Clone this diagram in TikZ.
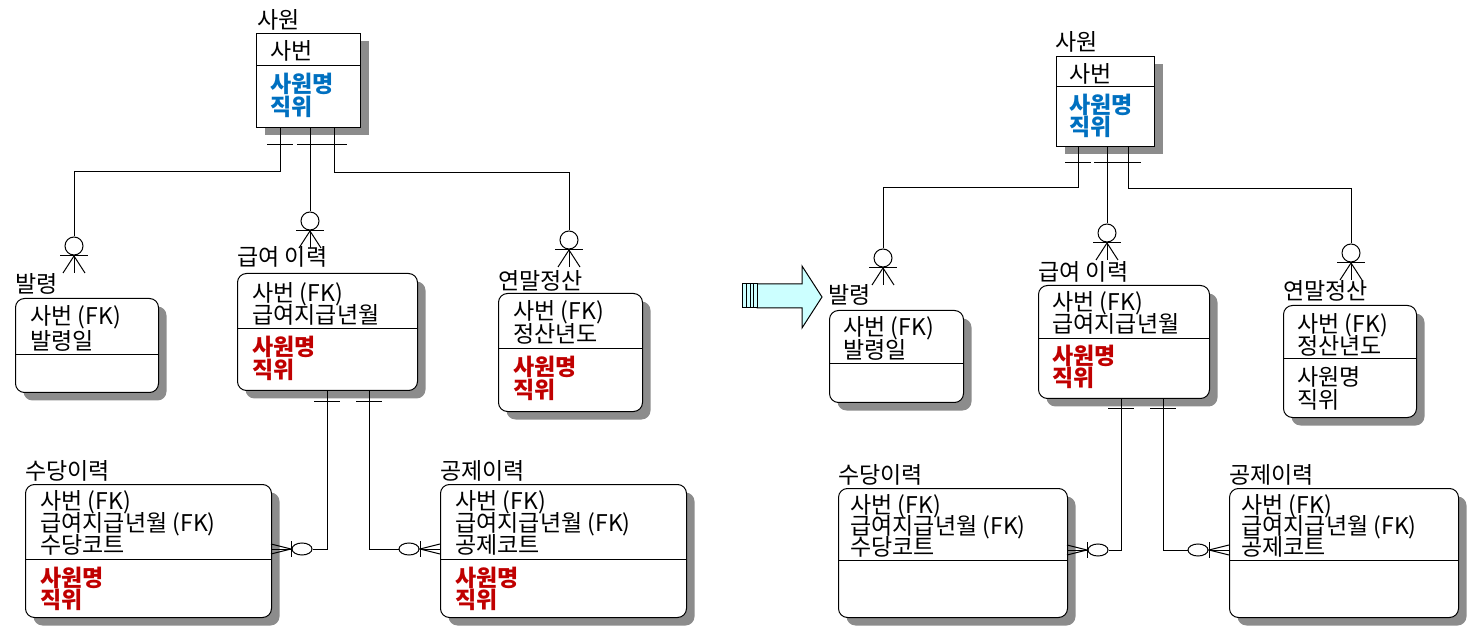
\documentclass[tikz,border=0pt]{standalone}
\usepackage{fontspec}
\setmainfont{Noto Sans CJK KR}
\usetikzlibrary{shadows,shapes.geometric}

\definecolor{keyblue}{HTML}{0070C0}
\definecolor{nonkeyred}{HTML}{C00000}
\definecolor{arrowcyan}{HTML}{CCFFFF}

\tikzset{
  entity/.style={draw, fill=white, anchor=north west, inner sep=0pt,
    drop shadow={shadow xshift=8pt, shadow yshift=-8pt, fill=black!45, opacity=1}},
  depentity/.style={entity, rounded corners=9pt},
  entname/.style={anchor=west, inner sep=0pt, font=\fontsize{23}{23}\selectfont,
    text height=18pt, text depth=2pt},
  attr/.style={entname},
  blueattr/.style={entname, text=keyblue, font=\fontsize{23}{23}\selectfont\bfseries},
  redattr/.style={entname, text=nonkeyred, font=\fontsize{23}{23}\selectfont\bfseries},
  zcirc/.style={draw, circle, minimum size=18pt, inner sep=0pt},
  zell/.style={draw, ellipse, minimum width=20pt, minimum height=12pt, inner sep=0pt}
}

% one side: short bar across the line
\newcommand{\onebar}[2]{\draw ({#1-13},#2) -- ({#1+13},#2);}
% zero-or-many, vertical (name, x, y of tip)
\newcommand{\manyv}[3]{%
  \node[zcirc] (#1) at (#2,{#3-27}) {};
  \draw (#2,#3) -- (#1);
  \draw ({#2-14},{#3-17}) -- ({#2+14},{#3-17});
  \draw ({#2-11},#3) -- (#2,{#3-17}) -- ({#2+11},#3);
}
% zero-or-many, horizontal (name, x of tip, y, direction)
\newcommand{\manyh}[4]{%
  \node[zell] (#1) at ({#2+(#4)*31},#3) {};
  \draw (#2,#3) -- (#1);
  \draw ({#2+(#4)*20},{#3-8}) -- ({#2+(#4)*20},{#3+8});
  \draw (#2,{#3-5}) -- ({#2+(#4)*20},#3) -- (#2,{#3+5});
}

\begin{document}
\begin{tikzpicture}[x=1pt, y=-1pt, line width=1pt]
\useasboundingbox (0,0) rectangle (1468,628);

% ================= before =================
% 사원
\node[entity, minimum width=104pt, minimum height=94pt] (sawonL) at (256,33) {};
\draw ([yshift=-33pt]sawonL.north west) -- ([yshift=-33pt]sawonL.north east);
\node[entname] (sawonLname) at (257,21) {사원};
\node[attr] (sawonLk1) at (270,52) {사번};
\foreach \t/\y [count=\i] in {사원명/85,직위/108}
  \node[blueattr] (sawonLa\i) at (270,\y) {\t};

% 발령
\node[depentity, minimum width=143pt, minimum height=94pt] (balL) at (15,298) {};
\draw ([yshift=-57pt]balL.north west) -- ([yshift=-57pt]balL.north east);
\node[entname] (balLname) at (15,285) {발령};
\foreach \t/\y [count=\i] in {사번 (FK)/317,발령일/342}
  \node[attr] (balLk\i) at (30,\y) {\t};

% 급여 이력
\node[depentity, minimum width=180pt, minimum height=117pt] (gyL) at (237,273) {};
\draw ([yshift=-56pt]gyL.north west) -- ([yshift=-56pt]gyL.north east);
\node[entname] (gyLname) at (237,258) {급여 이력};
\foreach \t/\y [count=\i] in {사번 (FK)/294,급여지급년월/316}
  \node[attr] (gyLk\i) at (252,\y) {\t};
\foreach \t/\y [count=\i] in {사원명/348,직위/371}
  \node[redattr] (gyLa\i) at (252,\y) {\t};

% 연말정산
\node[depentity, minimum width=144pt, minimum height=118pt] (yeonL) at (498,293) {};
\draw ([yshift=-56pt]yeonL.north west) -- ([yshift=-56pt]yeonL.north east);
\node[entname] (yeonLname) at (498,282) {연말정산};
\foreach \t/\y [count=\i] in {사번 (FK)/312,정산년도/335}
  \node[attr] (yeonLk\i) at (513,\y) {\t};
\foreach \t/\y [count=\i] in {사원명/368,직위/391}
  \node[redattr] (yeonLa\i) at (513,\y) {\t};

% 수당이력
\node[depentity, minimum width=246pt, minimum height=133pt] (sudL) at (25,484) {};
\draw ([yshift=-75pt]sudL.north west) -- ([yshift=-75pt]sudL.north east);
\node[entname] (sudLname) at (25,471) {수당이력};
\foreach \t/\y [count=\i] in {사번 (FK)/501,급여지급년월 (FK)/523,수당코트/545}
  \node[attr] (sudLk\i) at (40,\y) {\t};
\foreach \t/\y [count=\i] in {사원명/578,직위/600}
  \node[redattr] (sudLa\i) at (40,\y) {\t};

% 공제이력
\node[depentity, minimum width=246pt, minimum height=133pt] (gongL) at (440,484) {};
\draw ([yshift=-75pt]gongL.north west) -- ([yshift=-75pt]gongL.north east);
\node[entname] (gongLname) at (440,471) {공제이력};
\foreach \t/\y [count=\i] in {사번 (FK)/501,급여지급년월 (FK)/523,공제코트/545}
  \node[attr] (gongLk\i) at (455,\y) {\t};
\foreach \t/\y [count=\i] in {사원명/578,직위/600}
  \node[redattr] (gongLa\i) at (455,\y) {\t};

% relationships
\coordinate (bendA) at (280,172);
\manyv{cBalL}{74}{273}
\draw (sawonL.south -| bendA) -- (bendA) -| (cBalL.north);
\onebar{280}{145}

\manyv{cGyL}{310}{248}
\draw (sawonL.south -| cGyL) -- (cGyL.north);
\onebar{310}{145}

\coordinate (bendC) at (334,173);
\manyv{cYeonL}{569}{267}
\draw (sawonL.south -| bendC) -- (bendC) -| (cYeonL.north);
\onebar{334}{145}

\coordinate (bendD) at (327,549);
\manyh{cSudL}{271}{549}{1}
\draw (gyL.south -| bendD) -- (bendD) -- (cSudL.east);
\onebar{327}{402}

\coordinate (bendE) at (369,549);
\manyh{cGongL}{440}{549}{-1}
\draw (gyL.south -| bendE) -- (bendE) -- (cGongL.west);
\onebar{369}{402}

% ================= arrow =================
\draw[fill=arrowcyan] (757,284) -- (802,284) -- (802,266) -- (822,297)
  -- (802,328) -- (802,308) -- (757,308) -- cycle;
\draw[fill=arrowcyan] (742,284) rectangle (757,308);
\foreach \x in {746,750,753}
  \draw (\x,284) -- (\x,308);

% ================= after =================
% 사원
\node[entity, minimum width=98pt, minimum height=90pt] (sawonR) at (1056,56) {};
\draw ([yshift=-31pt]sawonR.north west) -- ([yshift=-31pt]sawonR.north east);
\node[entname] (sawonRname) at (1055,43) {사원};
\node[attr] (sawonRk1) at (1069,75) {사번};
\foreach \t/\y [count=\i] in {사원명/106,직위/128}
  \node[blueattr] (sawonRa\i) at (1069,\y) {\t};

% 발령
\node[depentity, minimum width=134pt, minimum height=92pt] (balR) at (829,310) {};
\draw ([yshift=-54pt]balR.north west) -- ([yshift=-54pt]balR.north east);
\node[entname] (balRname) at (828,296) {발령};
\foreach \t/\y [count=\i] in {사번 (FK)/328,발령일/351}
  \node[attr] (balRk\i) at (843,\y) {\t};

% 급여 이력
\node[depentity, minimum width=171pt, minimum height=113pt] (gyR) at (1038,285) {};
\draw ([yshift=-54pt]gyR.north west) -- ([yshift=-54pt]gyR.north east);
\node[entname] (gyRname) at (1038,273) {급여 이력};
\foreach \t/\y [count=\i] in {사번 (FK)/303,급여지급년월/325}
  \node[attr] (gyRk\i) at (1052,\y) {\t};
\foreach \t/\y [count=\i] in {사원명/357,직위/379}
  \node[redattr] (gyRa\i) at (1052,\y) {\t};

% 연말정산
\node[depentity, minimum width=133pt, minimum height=112pt] (yeonR) at (1283,305) {};
\draw ([yshift=-54pt]yeonR.north west) -- ([yshift=-54pt]yeonR.north east);
\node[entname] (yeonRname) at (1283,292) {연말정산};
\foreach \t/\y [count=\i] in {사번 (FK)/325,정산년도/347,사원명/378,직위/401}
  \node[attr] (yeonRk\i) at (1297,\y) {\t};

% 수당이력
\node[depentity, minimum width=229pt, minimum height=129pt] (sudR) at (838,488) {};
\draw ([yshift=-72pt]sudR.north west) -- ([yshift=-72pt]sudR.north east);
\node[entname] (sudRname) at (838,475) {수당이력};
\foreach \t/\y [count=\i] in {사번 (FK)/505,급여지급년월 (FK)/526,수당코트/547}
  \node[attr] (sudRk\i) at (850,\y) {\t};

% 공제이력
\node[depentity, minimum width=229pt, minimum height=129pt] (gongR) at (1229,488) {};
\draw ([yshift=-72pt]gongR.north west) -- ([yshift=-72pt]gongR.north east);
\node[entname] (gongRname) at (1229,475) {공제이력};
\foreach \t/\y [count=\i] in {사번 (FK)/505,급여지급년월 (FK)/526,공제코트/547}
  \node[attr] (gongRk\i) at (1241,\y) {\t};

% relationships
\coordinate (bendF) at (1078,188);
\manyv{cBalR}{883}{285}
\draw (sawonR.south -| bendF) -- (bendF) -| (cBalR.north);
\onebar{1078}{163}

\manyv{cGyR}{1107}{260}
\draw (sawonR.south -| cGyR) -- (cGyR.north);
\onebar{1107}{163}

\coordinate (bendG) at (1128,189);
\manyv{cYeonR}{1351}{280}
\draw (sawonR.south -| bendG) -- (bendG) -| (cYeonR.north);
\onebar{1128}{163}

\coordinate (bendH) at (1121,550);
\manyh{cSudR}{1067}{550}{1}
\draw (gyR.south -| bendH) -- (bendH) -- (cSudR.east);
\onebar{1121}{408}

\coordinate (bendI) at (1163,550);
\manyh{cGongR}{1229}{550}{-1}
\draw (gyR.south -| bendI) -- (bendI) -- (cGongR.west);
\onebar{1163}{408}
\end{tikzpicture}
\end{document}
